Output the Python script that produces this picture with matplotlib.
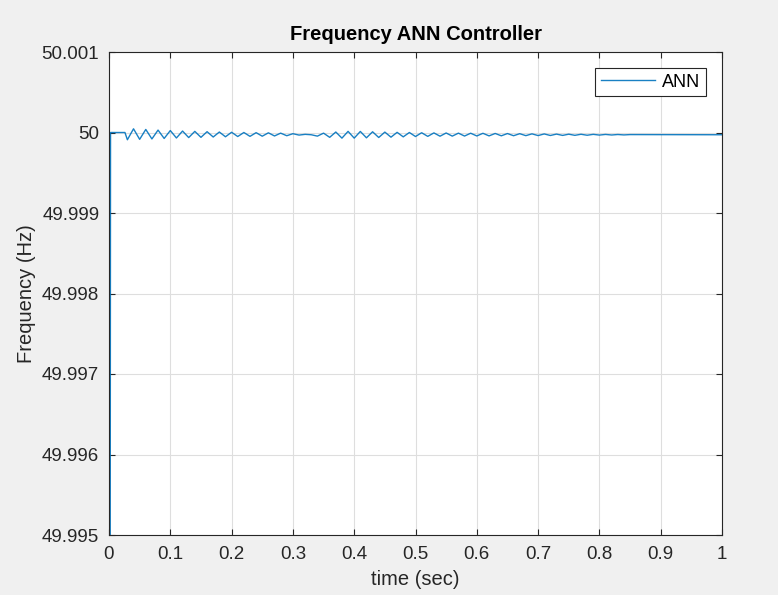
import numpy as np
import matplotlib
matplotlib.use('Agg')
import matplotlib.pyplot as plt

plt.rcParams['font.family'] = ['Liberation Sans', 'DejaVu Sans']

# start of the trace: rise from far below the axis, then flat at 50 Hz
t_start = [0.0015, 0.0025, 0.026]
f_start = [49.990, 50.0, 50.0]

# extrema of the oscillation (deviation from 50 Hz in 1e-5 Hz)
t_ext = np.round(np.arange(0.03, 0.855, 0.01), 2)
dev_ext = [
    -9.0, 4.6, -8.5, 3.8, -8.0, 3.0, -7.4, 2.4, -6.8, 1.8,
    -6.3, 1.4, -6.0, 1.0, -5.6, 0.6, -5.3, 0.3, -5.0, 0.0,
    -4.8, -0.2, -4.6, -0.4, -4.3, -0.8, -4.0, -1.5, -3.2, -2.3,
    -2.8, -4.5, -0.8, -6.0, 0.6, -7.0, 1.4, -7.0, 1.3, -6.6,
    0.9, -6.2, 0.5, -5.8, 0.2, -5.4, 0.0, -5.0, -0.3, -4.8,
    -0.5, -4.6, -0.6, -4.5, -0.8, -4.4, -0.9, -4.3, -1.0, -4.2,
    -1.2, -4.1, -1.3, -4.0, -1.5, -3.9, -1.7, -3.8, -1.8, -3.7,
    -2.0, -3.6, -2.1, -3.5, -2.2, -3.4, -2.3, -3.2, -2.4, -3.1,
    -2.5, -3.0, -2.6,
]
t_end = [1.0]
f_end = [49.999972]

xticks = [0, 0.1, 0.2, 0.3, 0.4, 0.5, 0.6, 0.7, 0.8, 0.9, 1]
xlabels = ['0', '0.1', '0.2', '0.3', '0.4', '0.5', '0.6', '0.7', '0.8', '0.9', '1']
yticks = [49.995, 49.996, 49.997, 49.998, 49.999, 50.0, 50.001]
ylabels = ['49.995', '49.996', '49.997', '49.998', '49.999', '50', '50.001']

t = np.concatenate([t_start, t_ext, t_end])
f = np.concatenate([f_start, 50.0 + np.array(dev_ext) * 1e-5, f_end])

fig = plt.figure(figsize=(7.78, 5.95), dpi=100, facecolor='#f0f0f0')
ax = fig.add_axes([109 / 778, 1 - 535 / 595, 613 / 778, 483 / 595])
ax.set_facecolor('white')

ax.plot(t, f, color='#0072BD', lw=1.0, alpha=0.9, label='ANN')

ax.set_xlim(0, 1)
ax.set_ylim(49.995, 50.001)
ax.set_xticks(xticks)
ax.set_xticklabels(xlabels)
ax.set_yticks(yticks)
ax.set_yticklabels(ylabels)
ax.grid(True, color='#dedede', lw=0.8)
ax.set_axisbelow(True)
ax.tick_params(direction='in', length=4, width=0.8, colors='#262626',
               labelsize=13.5, top=True, right=True)
ax.tick_params(axis='x', pad=8)
ax.tick_params(axis='y', pad=7)
for s in ax.spines.values():
    s.set_color('#262626')
    s.set_linewidth(0.8)

# title placed directly above the axes
fig.text(415.5 / 778, 1 - 35 / 595, 'Frequency ANN Controller', fontsize=14.5,
         fontweight='bold', color='black', ha='center', va='center')
ax.set_xlabel('time (sec)', fontsize=14.5, color='#262626', labelpad=5)
ax.set_ylabel('Frequency (Hz)', fontsize=14.5, color='#262626', labelpad=4)

leg = ax.legend(loc='upper right', fontsize=13, handlelength=3.0, fancybox=False,
                framealpha=1, edgecolor='#262626', borderaxespad=0.9,
                borderpad=0.3, handletextpad=0.4)
leg.get_frame().set_linewidth(0.8)

fig.savefig('out.png', dpi=100, facecolor=fig.get_facecolor())
